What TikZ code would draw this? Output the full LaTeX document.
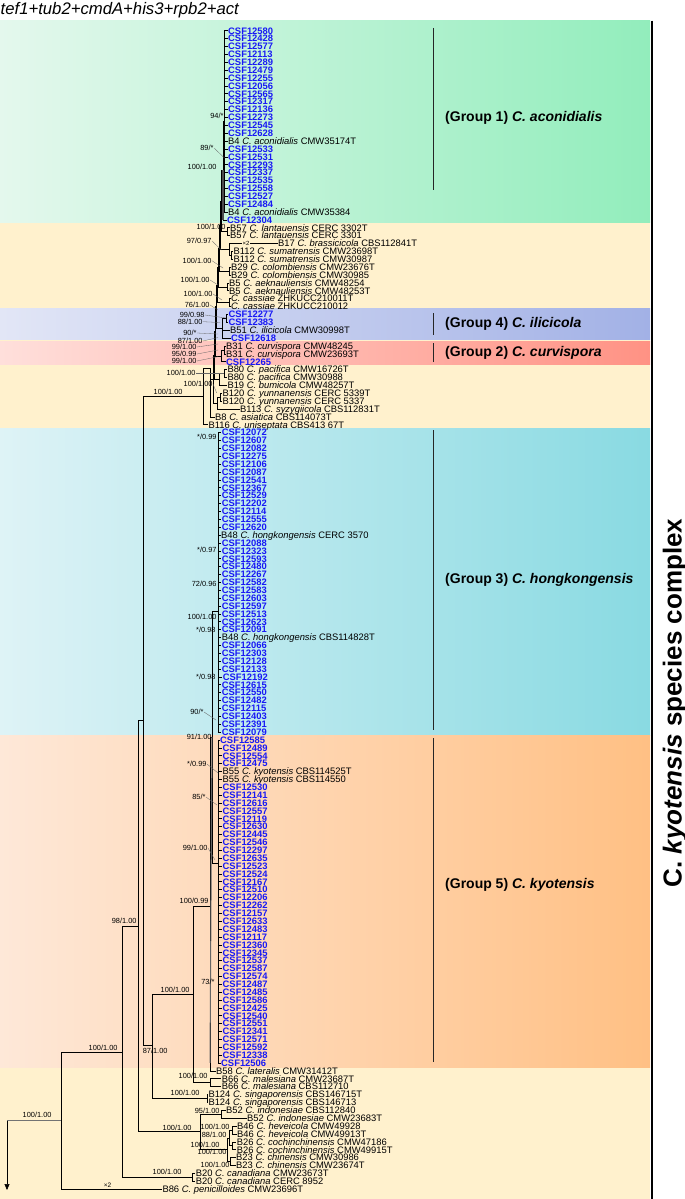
\documentclass[tikz,border=0pt]{standalone}
\usepackage{fontspec}
\setmainfont{Liberation Sans}
\usetikzlibrary{arrows.meta}

\definecolor{csfblue}{RGB}{24,24,245}
\definecolor{bandyel}{RGB}{255,241,205}
\definecolor{grnL}{RGB}{228,248,237}
\definecolor{grnR}{RGB}{146,237,188}
\definecolor{bluL}{RGB}{226,230,246}
\definecolor{bluR}{RGB}{162,177,230}
\definecolor{redL}{RGB}{255,223,219}
\definecolor{redR}{RGB}{255,146,132}
\definecolor{cyaL}{RGB}{222,243,246}
\definecolor{cyaR}{RGB}{137,218,226}
\definecolor{orgL}{RGB}{254,232,216}
\definecolor{orgR}{RGB}{255,192,132}

\newcommand{\csf}[1]{\textbf{\textcolor{csfblue}{CSF#1}}}
\newcommand{\taxon}[3]{#1 \textit{C. #2} #3}

\begin{document}
\begin{tikzpicture}[x=1pt, y=-1pt,
    tip_lbl/.style={anchor=west, inner sep=0.4pt, text height=6.7pt, text depth=0pt, font=\fontsize{9.4}{9.4}\selectfont},
    sup_lbl/.style={anchor=east, inner sep=0.3pt, text height=5.4pt, text depth=0pt, font=\fontsize{7.4}{7.4}\selectfont},
    grp_lbl/.style={anchor=west, inner sep=0pt, font=\fontsize{14}{14}\selectfont\bfseries},
    branch/.style={draw=black, line width=0.55pt},
    leader/.style={draw=black!60, line width=0.3pt},
    grp_bar/.style={draw=black!85, line width=1pt}
]
\useasboundingbox (0,0) rectangle (685,1199);

% coloured bands
\fill[bandyel] (0,20.7) rectangle (650,1199);
\shade[left color=grnL, right color=grnR] (0,20.7) rectangle (650,222);
\shade[left color=bluL, right color=bluR] (0,308.5) rectangle (650,339.5);
\shade[left color=redL, right color=redR] (0,341) rectangle (650,364);
\shade[left color=cyaL, right color=cyaR] (0,428.3) rectangle (650,735.5);
\shade[left color=orgL, right color=orgR] (0,735.5) rectangle (650,1067);
\draw[line width=2.6pt] (652,20.7) -- (652,1199);

\node[anchor=base west, inner sep=0pt, font=\fontsize{16.7}{16.7}\selectfont\itshape] (title) at (0.5,15) {tef1+tub2+cmdA+his3+rpb2+act};

% tips
\foreach \n/\xx/\lab in {
 1/228/\csf{12580}, 2/228/\csf{12428}, 3/228/\csf{12577}, 4/228/\csf{12113}, 5/228/\csf{12289},
 6/228/\csf{12479}, 7/228/\csf{12255}, 8/228/\csf{12056}, 9/228/\csf{12565}, 10/228/\csf{12317},
 11/228/\csf{12136}, 12/228/\csf{12273}, 13/228/\csf{12545}, 14/228/\csf{12628},
 15/228/\taxon{B4}{aconidialis}{CMW35174T},
 16/228/\csf{12533}, 17/228/\csf{12531}, 18/228/\csf{12293}, 19/228/\csf{12337}, 20/228/\csf{12535},
 21/228/\csf{12558}, 22/228/\csf{12527}, 23/228/\csf{12484},
 24/228/\taxon{B4}{aconidialis}{CMW35384},
 25/227/\csf{12304},
 26/230/\taxon{B57}{lantauensis}{CERC 3302T}, 27/230/\taxon{B57}{lantauensis}{CERC 3301},
 28/278/\taxon{B17}{brassicicola}{CBS112841T},
 29/233.3/\taxon{B112}{sumatrensis}{CMW23698T}, 30/233.3/\taxon{B112}{sumatrensis}{CMW30987},
 31/231/\taxon{B29}{colombiensis}{CMW23676T}, 32/231/\taxon{B29}{colombiensis}{CMW30985},
 33/229/\taxon{B5}{aeknauliensis}{CMW48254}, 34/229/\taxon{B5}{aeknauliensis}{CMW48253T},
 35/231/{\textit{C. cassiae} ZHKUCC210011T}, 36/231/{\textit{C. cassiae} ZHKUCC210012},
 37/228.3/\csf{12277}, 38/228.3/\csf{12383},
 39/230/\taxon{B51}{ilicicola}{CMW30998T}, 40/231/\csf{12618},
 41/226/\taxon{B31}{curvispora}{CMW48245}, 42/226/\taxon{B31}{curvispora}{CMW23693T},
 43/226/\csf{12265},
 44/227.3/\taxon{B80}{pacifica}{CMW16726T}, 45/227.3/\taxon{B80}{pacifica}{CMW30988},
 46/227.3/\taxon{B19}{bumicola}{CMW48257T},
 47/222.3/\taxon{B120}{yunnanensis}{CERC 5339T}, 48/222.3/\taxon{B120}{yunnanensis}{CERC 5337},
 49/240/\taxon{B113}{syzygiicola}{CBS112831T},
 50/215/\taxon{B8}{asiatica}{CBS114073T},
 51/208.3/\taxon{B116}{uniseptata}{CBS413 67T},
 52/221.7/\csf{12072}, 53/221.7/\csf{12607}, 54/221.7/\csf{12082}, 55/221.7/\csf{12275},
 56/221.7/\csf{12106}, 57/221.7/\csf{12087}, 58/221.7/\csf{12541}, 59/221.7/\csf{12367},
 60/221.7/\csf{12529}, 61/221.7/\csf{12202}, 62/221.7/\csf{12114}, 63/221.7/\csf{12555},
 64/221.7/\csf{12620},
 65/221/\taxon{B48}{hongkongensis}{CERC 3570},
 66/221.7/\csf{12088}, 67/221.7/\csf{12323}, 68/221.7/\csf{12593}, 69/221.7/\csf{12480},
 70/221.7/\csf{12267}, 71/221.7/\csf{12582}, 72/221.7/\csf{12583}, 73/221.7/\csf{12603},
 74/221.7/\csf{12597}, 75/221.7/\csf{12513}, 76/221.7/\csf{12623}, 77/221.7/\csf{12091},
 78/221.7/\taxon{B48}{hongkongensis}{CBS114828T},
 79/221.7/\csf{12066}, 80/221.7/\csf{12303}, 81/221.7/\csf{12128}, 82/221.7/\csf{12133},
 83/222.7/\csf{12192}, 84/221.7/\csf{12615}, 85/221.7/\csf{12550}, 86/221.7/\csf{12482},
 87/221.7/\csf{12115}, 88/221.7/\csf{12403}, 89/221.7/\csf{12391}, 90/221.7/\csf{12079},
 91/220/\csf{12585}, 92/222.5/\csf{12489}, 93/222.5/\csf{12554}, 94/222.5/\csf{12475},
 95/222.5/\taxon{B55}{kyotensis}{CBS114525T}, 96/222.5/\taxon{B55}{kyotensis}{CBS114550},
 97/222.5/\csf{12530}, 98/222.5/\csf{12141}, 99/222.5/\csf{12616}, 100/222.5/\csf{12557},
 101/222.5/\csf{12119}, 102/222.5/\csf{12630}, 103/222.5/\csf{12445}, 104/222.5/\csf{12546},
 105/222.5/\csf{12297}, 106/222.5/\csf{12635}, 107/222.5/\csf{12523}, 108/222.5/\csf{12524},
 109/222.5/\csf{12167}, 110/222.5/\csf{12510}, 111/222.5/\csf{12206}, 112/222.5/\csf{12262},
 113/222.5/\csf{12157}, 114/222.5/\csf{12633}, 115/222.5/\csf{12483}, 116/222.5/\csf{12117},
 117/222.5/\csf{12360}, 118/222.5/\csf{12345}, 119/222.5/\csf{12537}, 120/222.5/\csf{12587},
 121/222.5/\csf{12574}, 122/222.5/\csf{12487}, 123/222.5/\csf{12485}, 124/222.5/\csf{12586},
 125/222.5/\csf{12425}, 126/222.5/\csf{12540}, 127/222.5/\csf{12551}, 128/222.5/\csf{12341},
 129/222.5/\csf{12571}, 130/222.5/\csf{12592}, 131/222.5/\csf{12338}, 132/221/\csf{12506},
 133/216/\taxon{B58}{lateralis}{CMW31412T},
 134/221.7/\taxon{B66}{malesiana}{CMW23687T}, 135/221.7/\taxon{B66}{malesiana}{CBS112710},
 136/208.3/\taxon{B124}{singaporensis}{CBS146715T}, 137/208.3/\taxon{B124}{singaporensis}{CBS146713},
 138/226/\taxon{B52}{indonesiae}{CBS112840}, 139/247/\taxon{B52}{indonesiae}{CMW23683T},
 140/237/\taxon{B46}{heveicola}{CMW49928}, 141/237/\taxon{B46}{heveicola}{CMW49913T},
 142/236.7/\taxon{B26}{cochinchinensis}{CMW47186}, 143/236.7/\taxon{B26}{cochinchinensis}{CMW49915T},
 144/236/\taxon{B23}{chinensis}{CMW30986}, 145/236/\taxon{B23}{chinensis}{CMW23674T},
 146/195.7/\taxon{B20}{canadiana}{CMW23673T}, 147/195.7/\taxon{B20}{canadiana}{CERC 8952},
 148/162.3/\taxon{B86}{penicilloides}{CMW23696T}}
  \node[tip_lbl] (t\n) at ({\xx-0.4},{30.7+(\n-1)*7.88}) {\lab};

% internal nodes
\coordinate (R) at (7,1120.5);
\coordinate (Rend) at (7,1190);
\coordinate (A) at (61.7,1120.5);
\coordinate (B) at (122.3,1052);
\coordinate (Nc) at (192.5,1177.3);
\coordinate (C) at (138.3,926);
\coordinate (indh) at (200,1131.5);
\coordinate (Nind) at (221,1114.2);
\coordinate (Nhcc) at (227,1149.7);
\coordinate (Nhc) at (229,1137.9);
\coordinate (Nhev) at (232.3,1130);
\coordinate (Ncoc) at (232.3,1145.7);
\coordinate (Nchi) at (230.5,1161.5);
\coordinate (D) at (143.3,720.5);
\coordinate (F) at (152.7,1045.5);
\coordinate (Ns) at (207,1098.5);
\coordinate (G) at (193.3,994);
\coordinate (Nm) at (210.5,1082.6);
\coordinate (H) at (210,906);
\coordinate (N91) at (212,737);
\coordinate (g3) at (218.5,611);
\coordinate (g5) at (218.3,863);
\coordinate (E) at (203,396.4);
\coordinate (E2) at (210.7,368);
\coordinate (X9) at (213,379);
\coordinate (Nlm) at (217.5,403);
\coordinate (Nl) at (220,397.2);
\coordinate (X8) at (214,355);
\coordinate (Njk) at (219,379.4);
\coordinate (Nj) at (224,373.5);
\coordinate (X7) at (215,331);
\coordinate (Ni) at (221.5,355.8);
\coordinate (Ni1) at (224.3,349.8);
\coordinate (X6) at (216,306);
\coordinate (Nh) at (222.5,328.2);
\coordinate (Nh1) at (226,318.4);
\coordinate (X5) at (217,285);
\coordinate (Ng) at (229,302.5);
\coordinate (X4) at (218,267);
\coordinate (Nf) at (227,286.8);
\coordinate (X3) at (219,248);
\coordinate (Ne) at (229,271);
\coordinate (X2) at (220,225);
\coordinate (Ncd) at (229,249.4);
\coordinate (Nd) at (231.5,255.3);
\coordinate (X1) at (221,201);
\coordinate (Nb) at (227.7,231.6);
\coordinate (g1) at (223,170.4);
\coordinate (n94) at (224.5,121.4);

% branches
\draw[branch, draw=black!55] (R) -- (A);
\draw[branch, -{Triangle[width=5pt,length=6pt]}] (R) -- (Rend);
\foreach \p/\c in {A/B, A/t148.west, B/C, B/Nc, Nc/t146.west, Nc/t147.west,
  C/D, C/indh, indh/Nind, indh/Nhcc, Nind/t138.west, Nind/t139.west,
  Nhcc/Nhc, Nhcc/Nchi, Nhc/Nhev, Nhc/Ncoc, Nhev/t140.west, Nhev/t141.west,
  Ncoc/t142.west, Ncoc/t143.west, Nchi/t144.west, Nchi/t145.west,
  D/E, D/F, F/G, F/Ns, Ns/t136.west, Ns/t137.west, G/H, G/Nm,
  Nm/t134.west, Nm/t135.west, H/N91, H/t133.west, N91/g3, N91/g5,
  E/E2, E/t51.west, E2/X9, E2/t50.west, X9/X8, X9/Nlm, Nlm/Nl, Nlm/t49.west,
  Nl/t47.west, Nl/t48.west, X8/X7, X8/Njk, Njk/Nj, Njk/t46.west,
  Nj/t44.west, Nj/t45.west, X7/X6, X7/Ni, Ni/Ni1, Ni/t43.west,
  Ni1/t41.west, Ni1/t42.west, X6/X5, X6/Nh, Nh/Nh1, Nh/t39.west, Nh/t40.west,
  Nh1/t37.west, Nh1/t38.west, X5/X4, X5/Ng, Ng/t35.west, Ng/t36.west,
  X4/X3, X4/Nf, Nf/t33.west, Nf/t34.west, X3/X2, X3/Ne, Ne/t31.west, Ne/t32.west,
  X2/X1, X2/Ncd, Ncd/t28.west, Ncd/Nd, Nd/t29.west, Nd/t30.west,
  X1/g1, X1/Nb, Nb/t26.west, Nb/t27.west, g1/n94, g1/t25.west}
  \draw[branch] (\p) |- (\c);
\foreach \n in {1,...,24}
  \draw[branch] (n94) |- (t\n.west);
\foreach \n in {52,...,90}
  \draw[branch] (g3) |- (t\n.west);
\foreach \n in {91,...,132}
  \draw[branch] (g5) |- (t\n.west);
\draw[line width=1.2pt, black!70] (g1) -- (t25.west -| g1);
\draw[line width=1.2pt] (t52.west -| g3) -- (t90.west -| g3);
\draw[line width=1.2pt] (t91.west -| g5) -- (t132.west -| g5);
\draw[line width=1pt, black!60] (N91) -- (t132.west -| H);

% support values
\foreach \xx/\yy/\ba/\bb [count=\k] in {
  224/116/94/*, 217/167/100/1.00, 226/226.7/100/1.00, 183/392/100/1.00,
  217/437/*/0.99, 217/550/*/0.97, 217/584/72/0.96, 217/616.7/100/1.00,
  216/630/*/0.98, 216/676.7/*/0.98, 212/737/91/1.00, 209/900.7/100/0.99,
  215/982/73/*, 137/921/98/1.00, 190/990/100/1.00, 168/1051/87/1.00,
  118/1048/100/1.00, 208/1076/100/1.00, 200/1093/100/1.00, 220/1110.7/95/1.00,
  230/1127/100/1.00, 227/1135/88/1.00, 220/1145/100/1.00, 227/1152/100/1.00,
  230/1165/100/1.00, 192/1128/100/1.00, 182/1172/100/1.00, 52/1115/100/1.00}
  \node[sup_lbl] (sv\k) at (\xx,\yy) {\ba/\bb};

\foreach \xx/\yy/\ba/\bb/\lx/\ly [count=\k] in {
  214/148/89/*/224.5/158, 212/241/97/0.97/221.5/250, 212/260.7/100/1.00/223/268,
  210/280/100/1.00/218/285, 213/294/100/1.00/222/300, 210/305/76/1.00/218/310,
  205/315/99/0.98/226/318, 203/321.7/88/1.00/220/322.5, 197/333/90/*/218/334,
  203/341/87/1.00/218/337.5, 197/347/99/1.00/218/344, 197/354/95/0.99/218/350,
  197/361/99/1.00/218/356.7, 196/372.7/100/1.00/224/372.7, 213/384/100/1.00/216.7/393,
  204/712/90/*/216/720, 207/764/*/0.99/218/773, 206/797/85/*/217/805,
  208/848/99/1.00/215/860}
  {
  \node[sup_lbl] (lv\k) at (\xx,\yy) {\ba/\bb};
  \draw[leader] (lv\k.east) -- (\lx,\ly);
  }

\node[font=\fontsize{6}{6}\selectfont, inner sep=0.5pt, fill=bandyel] (brk1) at (246,243.5) {×2};
\node[font=\fontsize{6.5}{6.5}\selectfont, inner sep=0pt] (brk2) at (107.5,1185) {×2};

% group brackets
\draw[grp_bar] (433.3,28) -- (433.3,190);
\draw[grp_bar] (433.3,313) -- (433.3,335);
\draw[grp_bar] (433.3,343) -- (433.3,362);
\draw[grp_bar] (433.3,430) -- (433.3,730);
\draw[grp_bar] (433.3,738) -- (433.3,1062);
\node[grp_lbl] (gl1) at (445,118) {(Group 1) \textit{C. aconidialis}};
\node[grp_lbl] (gl4) at (445,324) {(Group 4) \textit{C. ilicicola}};
\node[grp_lbl] (gl2) at (445,353) {(Group 2) \textit{C. curvispora}};
\node[grp_lbl] (gl3) at (445,580) {(Group 3) \textit{C. hongkongensis}};
\node[grp_lbl] (gl5) at (445,885) {(Group 5) \textit{C. kyotensis}};

\node[rotate=90, inner sep=0pt, font=\fontsize{26}{26}\selectfont\bfseries] (cplx) at (675,703) {C. \textit{kyotensis} species complex};
\end{tikzpicture}
\end{document}
